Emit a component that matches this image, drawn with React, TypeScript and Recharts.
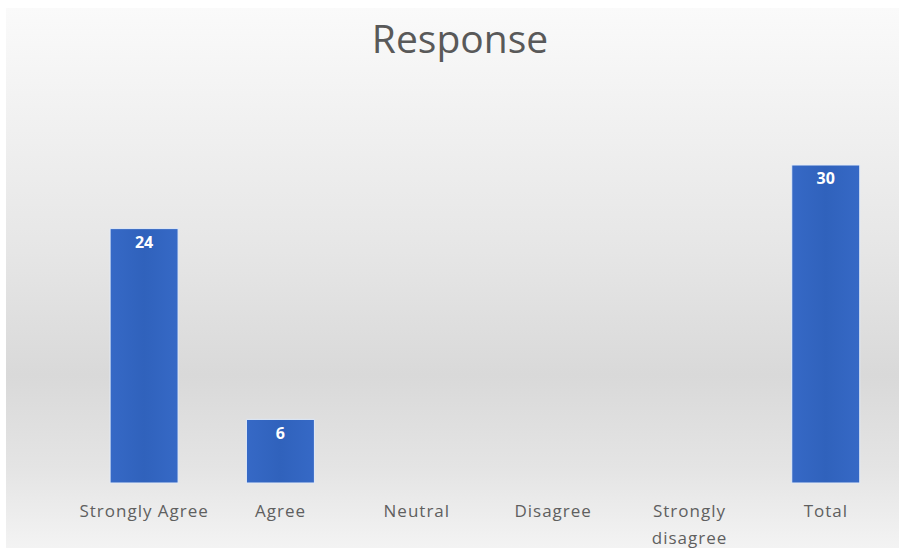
import React from 'react';
import { BarChart, Bar, XAxis, YAxis, LabelList, Text } from 'recharts';

const categories = ['Strongly Agree', 'Agree', 'Neutral', 'Disagree', 'Strongly disagree', 'Total'];
const responses: (number | null)[] = [24, 6, null, null, null, 30];
const title = 'Response';

const data = categories.map((c, i) => ({ category: c, value: responses[i] }));

const FONT = '"Open Sans", "DejaVu Sans", sans-serif';

const Tick = (props: any) => {
  const { x, y, payload } = props;
  return (
    <Text
      x={x}
      y={y}
      width={128}
      textAnchor="middle"
      verticalAnchor="start"
      lineHeight={27}
      fill="#5f5f5f"
      style={{ fontFamily: FONT, fontSize: 17, letterSpacing: 1 }}
    >
      {payload.value}
    </Text>
  );
};

export default function App() {
  return (
    <div style={{ position: 'absolute', left: 0, top: 0, width: 899, height: 548, background: '#ffffff' }}>
      <div
        style={{
          position: 'absolute',
          left: 6,
          top: 8,
          width: 893,
          height: 540,
          background:
            'linear-gradient(to bottom, #fafafa 0%, #f2f2f2 18%, #e6e6e6 45%, #d9d9d9 68%, #e4e4e4 85%, #f3f3f3 100%)',
        }}
      >
        <div
          style={{
            position: 'absolute',
            left: 0,
            width: 908,
            top: 5,
            textAlign: 'center',
            fontFamily: FONT,
            fontSize: 39,
            color: '#595959',
            lineHeight: '50px',
          }}
        >
          {title}
        </div>
        <BarChart
          width={893}
          height={540}
          data={data}
          margin={{ top: 104, right: 5, bottom: 5, left: 70 }}
          barCategoryGap="25%"
        >
          <defs>
            <linearGradient id="barGrad" x1="0" y1="0" x2="1" y2="0">
              <stop offset="0%" stopColor="#3669c6" />
              <stop offset="50%" stopColor="#3062bc" />
              <stop offset="100%" stopColor="#3669c6" />
            </linearGradient>
          </defs>
          <XAxis
            dataKey="category"
            axisLine={false}
            tickLine={false}
            height={60}
            tick={<Tick />}
            tickMargin={16}
            interval={0}
          />
          <YAxis hide domain={[0, 35]} />
          <Bar dataKey="value" fill="url(#barGrad)" stroke="#e4ecf8" strokeWidth={1} isAnimationActive={false}>
            <LabelList
              dataKey="value"
              position="insideTop"
              offset={8}
              fill="#ffffff"
              style={{ fontFamily: FONT, fontSize: 16, fontWeight: 700 }}
              formatter={(v: any) => (v == null ? '' : v)}
            />
          </Bar>
        </BarChart>
      </div>
    </div>
  );
}
